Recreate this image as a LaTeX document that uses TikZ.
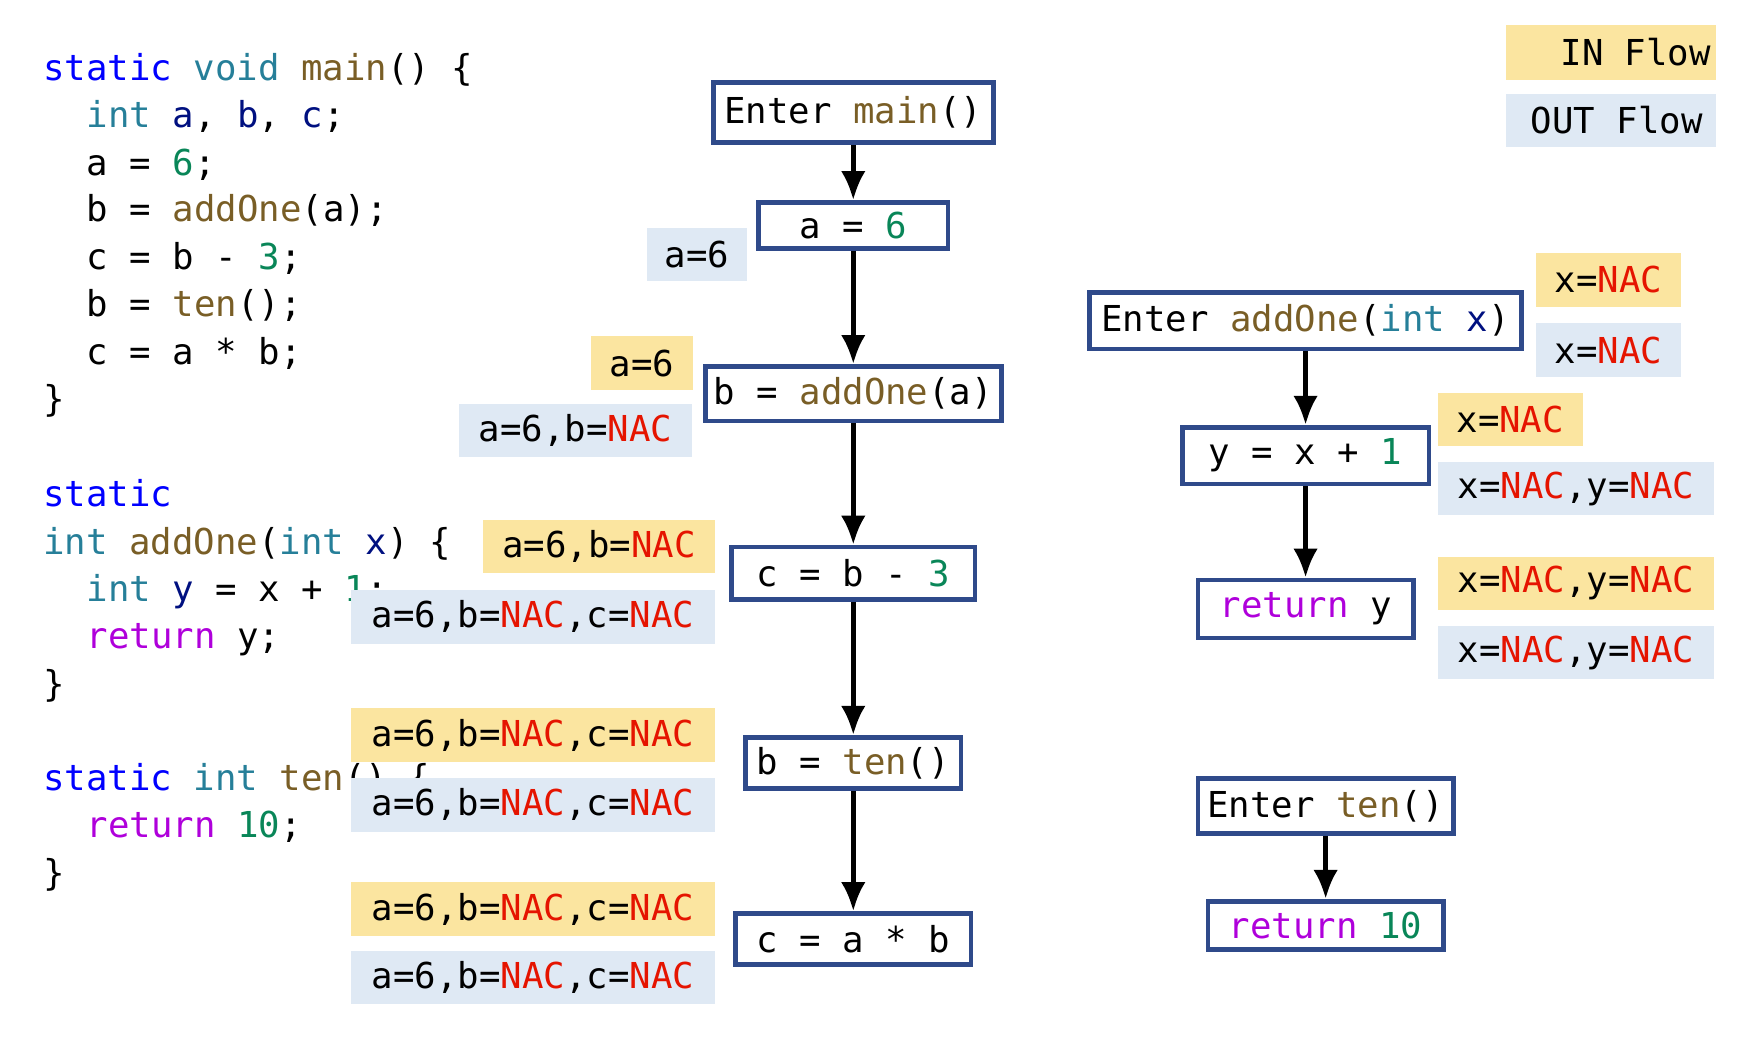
\documentclass[tikz,border=0pt]{standalone}
\usepackage{fontspec}
\setmonofont{DejaVu Sans Mono}
\usetikzlibrary{arrows.meta, positioning}
\definecolor{kwblue}{HTML}{0000FF}
\definecolor{tyteal}{HTML}{267F99}
\definecolor{fnbrown}{HTML}{795E26}
\definecolor{nmgreen}{HTML}{098658}
\definecolor{vrnavy}{HTML}{001080}
\definecolor{rtpurple}{HTML}{AF00DB}
\definecolor{nacred}{HTML}{E51400}
\definecolor{inyellow}{HTML}{FBE5A0}
\definecolor{outblue}{HTML}{DFE9F4}
\definecolor{boxblue}{HTML}{2F4A8A}
\newcommand{\ckw}[1]{\textcolor{kwblue}{#1}}
\newcommand{\cty}[1]{\textcolor{tyteal}{#1}}
\newcommand{\cfn}[1]{\textcolor{fnbrown}{#1}}
\newcommand{\cnm}[1]{\textcolor{nmgreen}{#1}}
\newcommand{\cvr}[1]{\textcolor{vrnavy}{#1}}
\newcommand{\crt}[1]{\textcolor{rtpurple}{#1}}
\newcommand{\nac}{\textcolor{nacred}{NAC}}
\tikzset{x=0.01cm, y=-0.01cm,
    every node/.style={font=\ttfamily\fontsize{9.1}{11}\selectfont, inner sep=0pt},
    code/.style={anchor=base west},
    stmt/.style={draw=boxblue, line width=1.2pt, minimum height=0.47cm},
    inflow/.style={fill=inyellow, minimum height=0.48cm},
    outflow/.style={fill=outblue, minimum height=0.48cm},
    flow/.style={-{Latex[length=2.6mm,width=2.2mm]}, line width=1.2pt}}
\begin{document}
\begin{tikzpicture}
\useasboundingbox (0,0) rectangle (1560,948.6);
% source code
\node[code] (l1) at (38,72) {\ckw{static} \cty{void} \cfn{main}() \{};
\node[code] (l2) at (77,114) {\cty{int} \cvr{a}, \cvr{b}, \cvr{c};};
\node[code] (l3) at (77,157) {a = \cnm{6};};
\node[code] (l4) at (77,199) {b = \cfn{addOne}(a);};
\node[code] (l5) at (77,242) {c = b - \cnm{3};};
\node[code] (l6) at (77,284) {b = \cfn{ten}();};
\node[code] (l7) at (77,327) {c = a * b;};
\node[code] (l8) at (38,369) {\}};
\node[code] (l9) at (38,454) {\ckw{static}};
\node[code] (l10) at (38,497) {\cty{int} \cfn{addOne}(\cty{int} \cvr{x}) \{};
\node[code] (l11) at (77,539) {\cty{int} \cvr{y} = x + \cnm{1};};
\node[code] (l12) at (77,581) {\crt{return} y;};
\node[code] (l13) at (38,624) {\}};
\node[code] (l14) at (38,709) {\ckw{static} \cty{int} \cfn{ten}() \{};
\node[code] (l15) at (77,751) {\crt{return} \cnm{10};};
\node[code] (l16) at (38,794) {\}};
% main CFG
\node[stmt, minimum width=2.51cm, minimum height=0.54cm] (emain) at (765,101) {Enter \cfn{main}()};
\node[stmt, minimum width=1.70cm, minimum height=0.41cm] (sa) at (765,202) {a = \cnm{6}};
\node[stmt, minimum width=2.65cm, minimum height=0.49cm] (sb) at (765,353) {b = \cfn{addOne}(a)};
\node[stmt, minimum width=2.18cm] (sc) at (765,514) {c = b - \cnm{3}};
\node[stmt, minimum width=1.93cm, minimum height=0.46cm] (sb2) at (765,684) {b = \cfn{ten}()};
\node[stmt, minimum width=2.11cm, minimum height=0.46cm] (sc2) at (765,842) {c = a * b};
\draw[flow] (emain) -- (sa);
\draw[flow] (sa) -- (sb);
\draw[flow] (sb) -- (sc);
\draw[flow] (sc) -- (sb2);
\draw[flow] (sb2) -- (sc2);
% facts of main
\node[outflow, minimum width=0.90cm] (oa) at (625,228) {a=6};
\node[inflow, minimum width=0.91cm] (ib) at (575.5,325.5) {a=6};
\node[outflow, minimum width=2.08cm] (ob) at (516,386) {a=6,b=\nac};
\node[inflow, minimum width=2.08cm] (ic) at (537,490) {a=6,b=\nac};
\node[outflow, minimum width=3.26cm] (oc) at (478,553) {a=6,b=\nac,c=\nac};
\node[inflow, minimum width=3.26cm] (ib2) at (478,659) {a=6,b=\nac,c=\nac};
\node[outflow, minimum width=3.26cm] (ob2) at (478,721.5) {a=6,b=\nac,c=\nac};
\node[inflow, minimum width=3.26cm] (ic2) at (478,815) {a=6,b=\nac,c=\nac};
\node[outflow, minimum width=3.26cm] (oc2) at (478,876.5) {a=6,b=\nac,c=\nac};
% addOne CFG
\node[stmt, minimum width=3.87cm, minimum height=0.51cm] (eadd) at (1170.5,287.5) {Enter \cfn{addOne}(\cty{int} \cvr{x})};
\node[stmt, minimum width=2.21cm, minimum height=0.51cm] (sy) at (1170.5,408.5) {y = x + \cnm{1}};
\node[stmt, minimum width=1.93cm, minimum height=0.52cm] (sry) at (1170.5,546) {\crt{return} y};
\draw[flow] (eadd) -- (sy);
\draw[flow] (sy) -- (sry);
\node[inflow, minimum width=1.30cm] (iadd) at (1442,251) {x=\nac};
\node[outflow, minimum width=1.30cm] (oadd) at (1442,314) {x=\nac};
\node[inflow, minimum width=1.30cm] (iy) at (1354,376) {x=\nac};
\node[outflow, minimum width=2.48cm] (oy) at (1413,438) {x=\nac,y=\nac};
\node[inflow, minimum width=2.48cm] (iry) at (1413,523) {x=\nac,y=\nac};
\node[outflow, minimum width=2.48cm] (ory) at (1413,585) {x=\nac,y=\nac};
% ten CFG
\node[stmt, minimum width=2.29cm, minimum height=0.49cm] (eten) at (1188.5,722.5) {Enter \cfn{ten}()};
\node[stmt, minimum width=2.11cm, minimum height=0.43cm] (sr10) at (1188.5,829.5) {\crt{return} \cnm{10}};
\draw[flow] (eten) -- (sr10);
% legend
\node[inflow, minimum width=1.88cm, minimum height=0.50cm] (lin) at (1444,47) {\hspace*{0.45cm}IN~Flow};
\node[outflow, minimum width=1.88cm, minimum height=0.48cm] (lout) at (1444,108) {\hspace*{0.11cm}OUT~Flow};
\end{tikzpicture}
\end{document}
